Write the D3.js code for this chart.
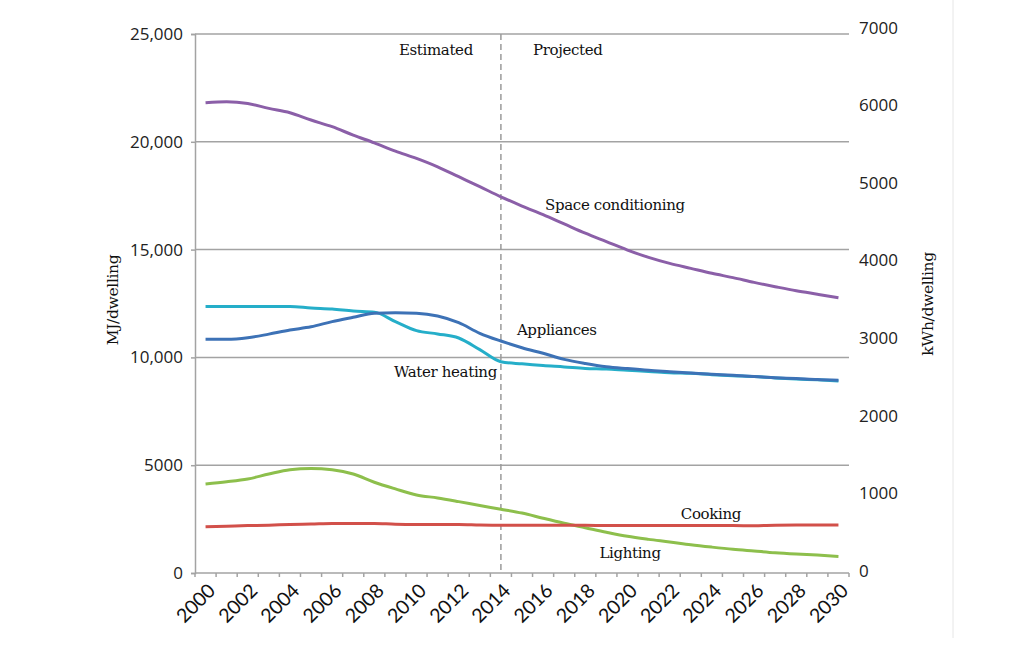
<!DOCTYPE html>
<html>
<head>
<meta charset="utf-8">
<script src="https://cdn.jsdelivr.net/npm/d3@7"></script>
<style>
  body { margin: 0; background: #fff; }
  svg { display: block; }
</style>
</head>
<body>
<svg id="chart" width="1016" height="653"></svg>
<script>
// years on the x axis, one band per year
const years = d3.range(2000, 2031);
const yearTickLabels = years.filter(function (y) { return y % 2 === 0; });

// MJ per dwelling
const spaceConditioning = [21810, 21860, 21780, 21550, 21350, 21010, 20700, 20310, 19950, 19570, 19230, 18840, 18380, 17920, 17450,
                           17020, 16620, 16190, 15760, 15370, 14980, 14640, 14360, 14130, 13900, 13700, 13480, 13280, 13090, 12930, 12770];
const appliances = [10840, 10840, 10910, 11080, 11270, 11420, 11660, 11860, 12050, 12070, 12050, 11920, 11610, 11120, 10760,
                    10450, 10190, 9910, 9720, 9570, 9480, 9400, 9340, 9280, 9220, 9170, 9110, 9060, 9020, 8970, 8940];
const waterHeating = [12360, 12360, 12360, 12360, 12360, 12290, 12240, 12150, 12100, 11660, 11240, 11090, 10900, 10360, 9800,
                      9700, 9620, 9560, 9490, 9460, 9400, 9350, 9290, 9260, 9200, 9150, 9110, 9050, 9000, 8960, 8910];
const lighting = [4130, 4230, 4360, 4590, 4790, 4850, 4790, 4590, 4210, 3900, 3620, 3480, 3310, 3130, 2960,
                  2780, 2540, 2310, 2100, 1890, 1700, 1560, 1440, 1310, 1200, 1100, 1020, 940, 880, 830, 770];
const cooking = [2140, 2170, 2200, 2220, 2250, 2270, 2300, 2300, 2300, 2260, 2250, 2250, 2250, 2230, 2220,
                 2220, 2220, 2210, 2210, 2200, 2200, 2200, 2200, 2200, 2200, 2200, 2190, 2220, 2230, 2230, 2230];

const leftTicks = [0, 5000, 10000, 15000, 20000, 25000];
const leftTickLabels = ["0", "5000", "10,000", "15,000", "20,000", "25,000"];
const rightTicks = [0, 1000, 2000, 3000, 4000, 5000, 6000, 7000];
const projectionStart = 2014;
const mjPerKwh = 3.6;

const series = [
    {name: "Space conditioning", values: spaceConditioning, color: "#8b5fa8"},
    {name: "Water heating", values: waterHeating, color: "#25aec9"},
    {name: "Appliances", values: appliances, color: "#3d72b6"},
    {name: "Lighting", values: lighting, color: "#8dbf4c"},
    {name: "Cooking", values: cooking, color: "#d2504a"}
];

const plot = {left: 195, right: 849, top: 34, bottom: 573};
const serif = "'DejaVu Serif', serif";
const sans = "'Open Sans', sans-serif";

const svg = d3.select("#chart");

const xScale = d3.scaleBand()
    .domain(years)
    .range([plot.left, plot.right])
    .padding(0);
const xMid = function (year) { return xScale(year) + xScale.bandwidth() / 2; };

const yScale = d3.scaleLinear()
    .domain([0, 25000])
    .range([plot.bottom, plot.top]);

const yRightScale = d3.scaleLinear()
    .domain([0, 25000 / mjPerKwh])
    .range([plot.bottom, plot.top]);

// faint page edge on the right
svg.append("line")
    .attr("x1", 953).attr("x2", 953)
    .attr("y1", 0).attr("y2", 638)
    .style("stroke", "#e6e6e6")
    .style("stroke-width", 1);

// horizontal gridlines
svg.append("g")
    .selectAll("line")
    .data(leftTicks.slice(1))
    .enter()
    .append("line")
    .attr("x1", plot.left).attr("x2", plot.right)
    .attr("y1", function (d) { return yScale(d); })
    .attr("y2", function (d) { return yScale(d); })
    .style("stroke", "#a3a3a3")
    .style("stroke-width", 1.5);

// left axis
let leftAxis = svg.append("g")
    .attr("transform", "translate(" + plot.left + ",0)")
    .call(d3.axisLeft(yScale)
        .tickValues(leftTicks)
        .tickSize(4)
        .tickPadding(8)
        .tickFormat(function (d, i) { return leftTickLabels[i]; }));
leftAxis.select(".domain").style("stroke", "#a3a3a3").style("stroke-width", 1.5);
leftAxis.selectAll(".tick line").style("stroke", "#a3a3a3").style("stroke-width", 1.5);
leftAxis.selectAll(".tick text")
    .style("font-family", sans)
    .style("font-size", "17px")
    .style("fill", "#222");

// right axis, labels only
let rightAxis = svg.append("g")
    .attr("transform", "translate(" + (plot.right + 10) + ",0)")
    .call(d3.axisRight(yRightScale)
        .tickValues(rightTicks)
        .tickSize(0)
        .tickPadding(0)
        .tickFormat(d3.format("d")));
rightAxis.select(".domain").remove();
rightAxis.selectAll(".tick text")
    .attr("dy", "0.2em")
    .style("font-family", sans)
    .style("font-size", "17px")
    .style("fill", "#222");

// x axis: ticks on band edges, labels on every second year
let xAxisGroup = svg.append("g")
    .attr("transform", "translate(0," + plot.bottom + ")");
xAxisGroup.append("line")
    .attr("x1", plot.left).attr("x2", plot.right)
    .style("stroke", "#a3a3a3")
    .style("stroke-width", 1.5);
xAxisGroup.selectAll(".edge")
    .data(years.concat([years[years.length - 1] + 1]))
    .enter()
    .append("line")
    .attr("class", "edge")
    .attr("x1", function (d, i) { return plot.left + i * xScale.bandwidth(); })
    .attr("x2", function (d, i) { return plot.left + i * xScale.bandwidth(); })
    .attr("y1", 0).attr("y2", 4)
    .style("stroke", "#a3a3a3")
    .style("stroke-width", 1.5);
xAxisGroup.selectAll(".year")
    .data(yearTickLabels)
    .enter()
    .append("text")
    .attr("class", "year")
    .attr("text-anchor", "end")
    .attr("transform", function (d) {
        return "translate(" + (xMid(d) + 1) + ",9) rotate(-45)";
    })
    .attr("dy", "0.72em")
    .style("font-family", "Lato, sans-serif")
    .style("font-size", "19.5px")
    .style("fill", "#111")
    .text(function (d) { return d; });

// estimated / projected divider
svg.append("line")
    .attr("x1", xMid(projectionStart)).attr("x2", xMid(projectionStart))
    .attr("y1", plot.top).attr("y2", plot.bottom)
    .style("stroke", "#9a9a9a")
    .style("stroke-width", 1.5)
    .style("stroke-dasharray", "6,4");

// series lines
const line = d3.line()
    .x(function (d, i) { return xMid(years[i]); })
    .y(function (d) { return yScale(d); })
    .curve(d3.curveMonotoneX);

svg.append("g")
    .selectAll("path")
    .data(series)
    .enter()
    .append("path")
    .attr("d", function (d) { return line(d.values); })
    .style("fill", "none")
    .style("stroke", function (d) { return d.color; })
    .style("stroke-width", 3)
    .style("stroke-linejoin", "round");

// annotations
function addLabel(text, x, y, anchor) {
    svg.append("text")
        .attr("x", x)
        .attr("y", y)
        .attr("dy", "0.35em")
        .attr("text-anchor", anchor)
        .style("font-family", serif)
        .style("font-size", "15px")
        .style("letter-spacing", "-0.35px")
        .style("fill", "#111")
        .text(text);
}

addLabel("Estimated", xMid(projectionStart) - 28, 50, "end");
addLabel("Projected", xMid(projectionStart) + 32, 50, "start");
addLabel("Space conditioning", xMid(2016) + 2, yScale(17070), "start");
addLabel("Appliances", xMid(2014) + 16, yScale(11290), "start");
addLabel("Water heating", xMid(2014) - 4, yScale(9350), "end");
addLabel("Cooking", xMid(2023) - 10, yScale(2750), "start");
addLabel("Lighting", xMid(2019) - 7, yScale(950), "start");

// axis titles
svg.append("text")
    .attr("transform", "translate(113,300) rotate(-90)")
    .attr("dy", "0.35em")
    .attr("text-anchor", "middle")
    .style("font-family", serif)
    .style("font-size", "15.5px")
    .style("letter-spacing", "-0.35px")
    .style("fill", "#111")
    .text("MJ/dwelling");

svg.append("text")
    .attr("transform", "translate(928,304) rotate(-90)")
    .attr("dy", "0.35em")
    .attr("text-anchor", "middle")
    .style("font-family", serif)
    .style("font-size", "15.5px")
    .style("letter-spacing", "-0.35px")
    .style("fill", "#111")
    .text("kWh/dwelling");
</script>
</body>
</html>
